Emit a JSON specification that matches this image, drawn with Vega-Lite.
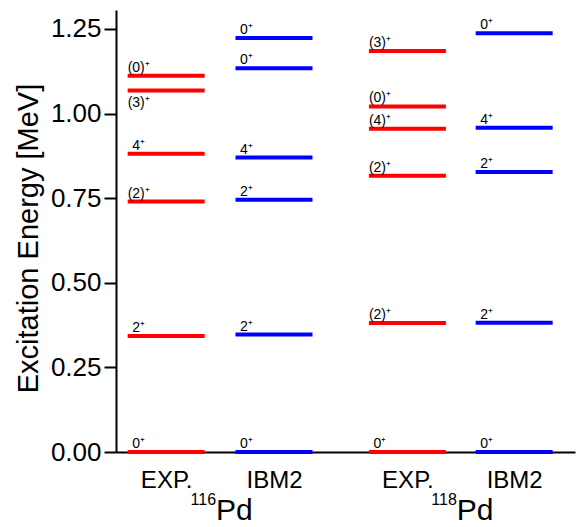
{
  "$schema": "https://vega.github.io/schema/vega-lite/v6.json",
  "autosize": "none",
  "width": 459,
  "height": 442,
  "padding": {"left": 116, "top": 10, "right": 4, "bottom": 75},
  "background": "white",
  "config": {
    "font": "Liberation Sans",
    "view": {"stroke": null}
  },
  "datasets": {
    "levels": [
      {"nucleus": "116Pd", "source": "EXP.", "col": 0.47, "E": 0.000, "label": "0⁺", "tentative": false, "side": "above"},
      {"nucleus": "116Pd", "source": "EXP.", "col": 0.47, "E": 0.343, "label": "2⁺", "tentative": false, "side": "above"},
      {"nucleus": "116Pd", "source": "EXP.", "col": 0.47, "E": 0.740, "label": "(2)⁺", "tentative": true, "side": "above"},
      {"nucleus": "116Pd", "source": "EXP.", "col": 0.47, "E": 0.881, "label": "4⁺", "tentative": false, "side": "above"},
      {"nucleus": "116Pd", "source": "EXP.", "col": 0.47, "E": 1.068, "label": "(3)⁺", "tentative": true, "side": "below"},
      {"nucleus": "116Pd", "source": "EXP.", "col": 0.47, "E": 1.112, "label": "(0)⁺", "tentative": true, "side": "above"},
      {"nucleus": "116Pd", "source": "IBM2", "col": 1.48, "E": 0.000, "label": "0⁺", "tentative": false, "side": "above"},
      {"nucleus": "116Pd", "source": "IBM2", "col": 1.48, "E": 0.347, "label": "2⁺", "tentative": false, "side": "above"},
      {"nucleus": "116Pd", "source": "IBM2", "col": 1.48, "E": 0.745, "label": "2⁺", "tentative": false, "side": "above"},
      {"nucleus": "116Pd", "source": "IBM2", "col": 1.48, "E": 0.870, "label": "4⁺", "tentative": false, "side": "above"},
      {"nucleus": "116Pd", "source": "IBM2", "col": 1.48, "E": 1.134, "label": "0⁺", "tentative": false, "side": "above"},
      {"nucleus": "116Pd", "source": "IBM2", "col": 1.48, "E": 1.223, "label": "0⁺", "tentative": false, "side": "above"},
      {"nucleus": "118Pd", "source": "EXP.", "col": 2.73, "E": 0.000, "label": "0⁺", "tentative": false, "side": "above"},
      {"nucleus": "118Pd", "source": "EXP.", "col": 2.73, "E": 0.381, "label": "(2)⁺", "tentative": true, "side": "above"},
      {"nucleus": "118Pd", "source": "EXP.", "col": 2.73, "E": 0.816, "label": "(2)⁺", "tentative": true, "side": "above"},
      {"nucleus": "118Pd", "source": "EXP.", "col": 2.73, "E": 0.955, "label": "(4)⁺", "tentative": true, "side": "above"},
      {"nucleus": "118Pd", "source": "EXP.", "col": 2.73, "E": 1.021, "label": "(0)⁺", "tentative": true, "side": "above"},
      {"nucleus": "118Pd", "source": "EXP.", "col": 2.73, "E": 1.185, "label": "(3)⁺", "tentative": true, "side": "above"},
      {"nucleus": "118Pd", "source": "IBM2", "col": 3.73, "E": 0.000, "label": "0⁺", "tentative": false, "side": "above"},
      {"nucleus": "118Pd", "source": "IBM2", "col": 3.73, "E": 0.382, "label": "2⁺", "tentative": false, "side": "above"},
      {"nucleus": "118Pd", "source": "IBM2", "col": 3.73, "E": 0.827, "label": "2⁺", "tentative": false, "side": "above"},
      {"nucleus": "118Pd", "source": "IBM2", "col": 3.73, "E": 0.958, "label": "4⁺", "tentative": false, "side": "above"},
      {"nucleus": "118Pd", "source": "IBM2", "col": 3.73, "E": 1.237, "label": "0⁺", "tentative": false, "side": "above"}
    ],
    "nuclei": [
      {"mass": "116", "element": "Pd", "mid": 0.975},
      {"mass": "118", "element": "Pd", "mid": 3.23}
    ]
  },
  "layer": [
    {
      "data": {"name": "levels"},
      "mark": {"type": "tick", "orient": "horizontal", "size": 77, "thickness": 4, "opacity": 1},
      "encoding": {
        "x": {
          "field": "col", "type": "quantitative",
          "scale": {"domain": [0, 4.3], "nice": false, "zero": false},
          "axis": {
            "values": [0.47, 1.48, 2.73, 3.73],
            "labelExpr": "datum.value < 1 ? 'EXP.' : datum.value < 2 ? 'IBM2' : datum.value < 3 ? 'EXP.' : 'IBM2'",
            "ticks": false, "grid": false, "title": null,
            "domainColor": "black", "domainWidth": 2,
            "labelFontSize": 24, "labelColor": "black", "labelPadding": 16,
            "labelFont": "Liberation Sans"
          }
        },
        "y": {
          "field": "E", "type": "quantitative",
          "scale": {"domain": [0, 1.306], "nice": false},
          "axis": {
            "values": [0, 0.25, 0.5, 0.75, 1.0, 1.25],
            "format": ".2f",
            "title": "Excitation Energy [MeV]",
            "titleFontSize": 29, "titleFontWeight": "normal", "titleColor": "black",
            "titleFont": "Liberation Sans", "titlePadding": 7, "titleY": 228,
            "labelFontSize": 26, "labelColor": "black", "labelFont": "Liberation Sans",
            "labelPadding": 3,
            "grid": false, "tickColor": "black", "tickWidth": 2, "tickSize": 12,
            "domainColor": "black", "domainWidth": 2
          }
        },
        "color": {
          "field": "source", "type": "nominal",
          "scale": {"domain": ["EXP.", "IBM2"], "range": ["#ff0000", "#0000ff"]},
          "legend": null
        }
      }
    },
    {
      "data": {"name": "levels"},
      "transform": [{"filter": "!datum.tentative && datum.side == 'above'"}],
      "mark": {"type": "text", "align": "left", "baseline": "alphabetic", "dx": -34, "dy": -4, "fontSize": 14, "color": "black"},
      "encoding": {
        "x": {"field": "col", "type": "quantitative"},
        "y": {"field": "E", "type": "quantitative"},
        "text": {"field": "label"}
      }
    },
    {
      "data": {"name": "levels"},
      "transform": [{"filter": "datum.tentative && datum.side == 'above'"}],
      "mark": {"type": "text", "align": "left", "baseline": "alphabetic", "dx": -38.5, "dy": -4, "fontSize": 14, "color": "black"},
      "encoding": {
        "x": {"field": "col", "type": "quantitative"},
        "y": {"field": "E", "type": "quantitative"},
        "text": {"field": "label"}
      }
    },
    {
      "data": {"name": "levels"},
      "transform": [{"filter": "datum.side == 'below'"}],
      "mark": {"type": "text", "align": "left", "baseline": "top", "dx": -38.5, "dy": 5, "fontSize": 14, "color": "black"},
      "encoding": {
        "x": {"field": "col", "type": "quantitative"},
        "y": {"field": "E", "type": "quantitative"},
        "text": {"field": "label"}
      }
    },
    {
      "data": {"name": "nuclei"},
      "mark": {"type": "text", "align": "right", "baseline": "alphabetic", "dx": -4, "dy": -15, "fontSize": 16, "color": "black"},
      "encoding": {
        "x": {"field": "mid", "type": "quantitative"},
        "y": {"datum": -0.201, "type": "quantitative"},
        "text": {"field": "mass"}
      }
    },
    {
      "data": {"name": "nuclei"},
      "mark": {"type": "text", "align": "left", "baseline": "alphabetic", "dx": -4, "fontSize": 30, "color": "black"},
      "encoding": {
        "x": {"field": "mid", "type": "quantitative"},
        "y": {"datum": -0.201, "type": "quantitative"},
        "text": {"field": "element"}
      }
    }
  ]
}
